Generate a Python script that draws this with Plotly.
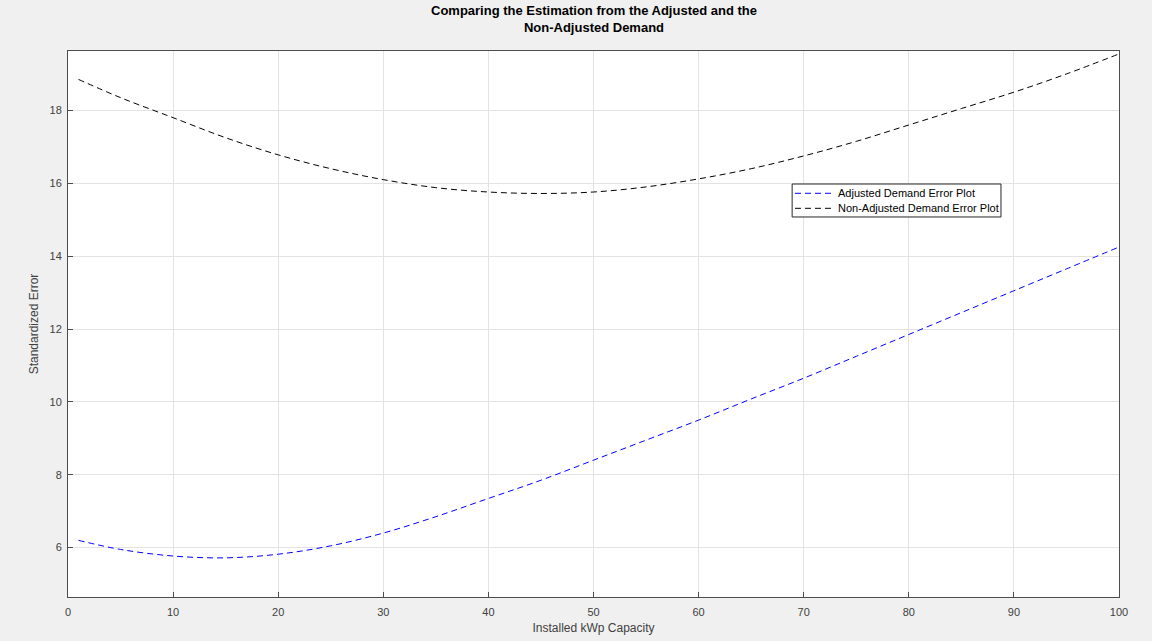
import plotly.graph_objects as go

x_vals = [1, 5, 10, 15, 20, 25, 30, 35, 40, 45, 50, 55, 60, 65, 70, 75, 80, 85, 90, 95, 100]
adjusted = [6.2, 5.95, 5.77, 5.72, 5.82, 6.05, 6.4, 6.85, 7.35, 7.85, 8.4, 8.95, 9.5,
            10.08, 10.65, 11.25, 11.85, 12.45, 13.05, 13.65, 14.25]
non_adjusted = [18.85, 18.35, 17.8, 17.25, 16.78, 16.4, 16.1, 15.88, 15.76, 15.72, 15.76,
                15.9, 16.12, 16.4, 16.75, 17.15, 17.6, 18.05, 18.5, 19.0, 19.55]
series_names = ["Adjusted Demand Error Plot", "Non-Adjusted Demand Error Plot"]
series_colors = ["#0000ff", "#000000"]
x_ticks = [0, 10, 20, 30, 40, 50, 60, 70, 80, 90, 100]
y_ticks = [6, 8, 10, 12, 14, 16, 18]

FONT = "Liberation Sans, Arial, sans-serif"
DASH = "6px,4px"

fig = go.Figure()
for name, ys, col in zip(series_names, [adjusted, non_adjusted], series_colors):
    fig.add_trace(go.Scatter(x=x_vals, y=ys, mode="lines", name=name, showlegend=False,
                             line=dict(color=col, width=1, dash=DASH, shape="spline")))

axis_common = dict(showline=True, linecolor="#4d4d4d", linewidth=1, mirror=True,
                   ticks="inside", ticklen=5, tickcolor="#4d4d4d", automargin=False,
                   showgrid=True, gridcolor="#e3e3e3", gridwidth=1, zeroline=False,
                   tickfont=dict(family=FONT, size=11, color="#404040"))

# manual MATLAB-style legend (paper coordinates)
lg_x0, lg_x1, lg_y0, lg_y1 = 0.689, 0.8877, 0.696, 0.7564
item_y = [0.7394, 0.7119]
shapes = [dict(type="rect", xref="paper", yref="paper", x0=lg_x0, x1=lg_x1, y0=lg_y0, y1=lg_y1,
               fillcolor="#ffffff", line=dict(color="#262626", width=1), layer="above")]
annotations = []
for name, col, yy in zip(series_names, series_colors, item_y):
    shapes.append(dict(type="line", xref="paper", yref="paper", x0=0.6917, x1=0.727, y0=yy, y1=yy,
                       line=dict(color=col, width=1, dash=DASH), layer="above"))
    annotations.append(dict(text=name, x=0.7308, y=yy, xref="paper", yref="paper",
                            xanchor="left", yanchor="middle", showarrow=False,
                            font=dict(family=FONT, size=11, color="#000000")))

annotations.append(dict(text="<b>Comparing the Estimation from the Adjusted and the<br>Non-Adjusted Demand</b>",
                        x=0.5, y=1, xref="paper", yref="paper", xanchor="center", yanchor="bottom",
                        yshift=14, showarrow=False,
                        font=dict(family=FONT, size=13, color="#000000")))

fig.update_layout(
    width=1152, height=641,
    margin=dict(l=68, r=33, t=51, b=44),
    paper_bgcolor="#f0f0f0", plot_bgcolor="#ffffff",
    font=dict(family=FONT, size=11, color="#262626"),
    showlegend=False,
    shapes=shapes,
    annotations=annotations,
)
fig.update_xaxes(range=[0, 100], tickvals=x_ticks, ticklabelstandoff=5,
                 title=dict(text="Installed kWp Capacity", font=dict(family=FONT, size=12, color="#404040"), standoff=6),
                 **axis_common)
fig.update_yaxes(range=[4.645, 19.63], tickvals=y_ticks, ticklabelstandoff=3,
                 title=dict(text="Standardized Error", font=dict(family=FONT, size=12, color="#404040"), standoff=8),
                 **axis_common)

fig.write_html("out.html")
